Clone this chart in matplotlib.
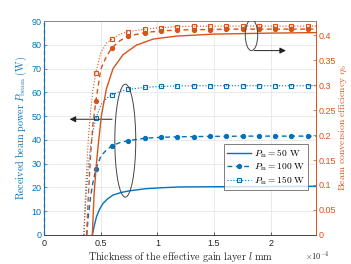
import matplotlib
matplotlib.use('Agg')
import matplotlib.pyplot as plt
from matplotlib.patches import Ellipse
import numpy as np

plt.rcParams['mathtext.fontset'] = 'cm'
plt.rcParams['font.family'] = ['Liberation Sans', 'DejaVu Sans']

# 厚度 (单位 1e-4 mm)
x_50 = [0.425, 0.44, 0.462, 0.49, 0.52, 0.56, 0.608, 0.68, 0.756, 0.903, 1.05, 1.197, 1.5, 2.0, 2.4]
p_50 = [0.0, 3.5, 7.7, 10.9, 13.3, 15.2, 16.8, 17.9, 18.6, 19.5, 19.9, 20.2, 20.3, 20.4, 20.5]
xe_50 = [0.425, 0.44, 0.46, 0.476, 0.506, 0.55, 0.608, 0.697, 0.815, 0.961, 1.168, 1.5, 2.0, 2.4]
eta_50 = [0.0, 0.08, 0.14, 0.178, 0.24, 0.293, 0.333, 0.361, 0.38, 0.392, 0.398, 0.402, 0.404, 0.405]

x_100 = [0.375, 0.39, 0.41, 0.43, 0.456, 0.50, 0.55, 0.600, 0.67, 0.744, 0.888, 1.032, 1.176,
         1.320, 1.464, 1.608, 1.752, 1.896, 2.040, 2.184, 2.328, 2.4]
p_100 = [0.0, 8.1, 16.2, 22.1, 27.6, 33.2, 35.8, 37.6, 38.9, 39.7, 40.7, 41.1, 41.3,
         41.4, 41.5, 41.5, 41.6, 41.6, 41.6, 41.6, 41.6, 41.6]
eta_100 = [0.0, 0.081, 0.162, 0.221, 0.268, 0.332, 0.358, 0.375, 0.389, 0.398, 0.405, 0.4085, 0.41,
           0.411, 0.411, 0.412, 0.412, 0.412, 0.412, 0.412, 0.412, 0.412]

x_150 = [0.35, 0.37, 0.39, 0.41, 0.43, 0.456, 0.50, 0.55, 0.600, 0.67, 0.744, 0.888, 1.032, 1.176,
         1.320, 1.464, 1.608, 1.752, 1.896, 2.040, 2.184, 2.328, 2.4]
p_150 = [0.0, 17.1, 29.0, 37.4, 43.5, 49.1, 54.7, 57.6, 59.0, 60.4, 61.3, 62.1, 62.5, 62.7,
         62.8, 62.8, 62.8, 62.8, 62.8, 62.8, 62.8, 62.8, 62.8]
eta_150 = [0.0, 0.114, 0.193, 0.249, 0.29, 0.325, 0.365, 0.384, 0.392, 0.402, 0.407, 0.412, 0.415, 0.417,
           0.418, 0.418, 0.418, 0.418, 0.418, 0.418, 0.418, 0.418, 0.418]

# 标记位置
mark_x = [0.456, 0.600, 0.744, 0.888, 1.032, 1.176, 1.320, 1.464, 1.608, 1.752, 1.896, 2.040, 2.184, 2.328]

blue = '#0072BD'
orange = '#D95319'

fig = plt.figure(figsize=(3.51, 2.64), dpi=100)
ax1 = fig.add_axes([0.126, 0.110, 0.774, 0.810])
ax2 = ax1.twinx()

m100 = list(np.where(np.isin(x_100, mark_x))[0])
m150 = list(np.where(np.isin(x_150, mark_x))[0])

l1, = ax1.plot(x_50, p_50, color=blue, lw=1.0, label=r'$P_{\mathrm{in}}\mathrm{=50\ W}$')
l2, = ax1.plot(x_100, p_100, color=blue, lw=1.0, ls=(0, (3.5, 2.5)), marker='o', ms=2.8,
               markevery=m100, label=r'$P_{\mathrm{in}}\mathrm{=100\ W}$')
l3, = ax1.plot(x_150, p_150, color=blue, lw=0.8, ls=':', marker='s', ms=3.5, mfc='none', mew=0.8,
               markevery=m150, label=r'$P_{\mathrm{in}}\mathrm{=150\ W}$')

ax2.plot(xe_50, eta_50, color=orange, lw=1.0)
ax2.plot(x_100, eta_100, color=orange, lw=1.0, ls=(0, (3.5, 2.5)), marker='o', ms=2.8, markevery=m100)
ax2.plot(x_150, eta_150, color=orange, lw=0.8, ls=':', marker='s', ms=3.5, mfc='none', mew=0.8,
         markevery=m150)

ax1.set_xlim(0, 2.4)
ax1.set_ylim(0, 90)
ax2.set_ylim(0, 0.428)
ax1.set_xticks([0, 0.5, 1, 1.5, 2])
ax1.set_xticklabels(['0', '0.5', '1', '1.5', '2'])
ax1.set_yticks(range(0, 91, 10))
ax2.set_yticks(np.arange(0, 0.401, 0.05))
ax2.set_yticklabels(['0', '0.05', '0.1', '0.15', '0.2', '0.25', '0.3', '0.35', '0.4'])

ax1.grid(True, color='#e6e6e6', lw=0.6)
ax1.set_axisbelow(True)

ax1.tick_params(axis='y', colors=blue, labelsize=6.5, direction='in', length=2.5, width=0.5, pad=2)
ax1.tick_params(axis='x', colors='#262626', labelsize=6.5, direction='in', length=2.5, width=0.5, pad=3)
ax2.tick_params(axis='y', colors=orange, labelsize=6.5, direction='in', length=2.5, width=0.5, pad=2)

for ax in (ax1, ax2):
    ax.spines['top'].set_color('#888888')
    ax.spines['bottom'].set_color('#444444')
    ax.spines['left'].set_color(blue)
    ax.spines['right'].set_color(orange)
    for s in ax.spines.values():
        s.set_linewidth(0.6)

ax1.axvline(0, color='#777777', ls=(0, (3, 2)), lw=1.0, zorder=5, clip_on=False)

ax1.set_xlabel(r'$\mathrm{Thickness\ of\ the\ effective\ gain\ layer}\ l\ \mathrm{mm}$', fontsize=7.3,
               color='#262626', labelpad=1)
ax1.set_ylabel(r'$\mathrm{Received\ beam\ power}\ P_{\mathrm{beam}}\ \mathrm{(W)}$', fontsize=7.3,
               color=blue, labelpad=2)
ax2.set_ylabel(r'$\mathrm{Beam\ conversion\ efficiency}\ \eta_{\mathrm{b}}$', fontsize=7.0,
               color=orange, labelpad=1)
fig.text(0.87, 0.02, r'$\times10^{-4}$', fontsize=6, color='#262626')

# 椭圆与箭头标注
ax1.add_patch(Ellipse((0.716, 39.7), 0.185, 47.5, fill=False, ec='#444444', lw=0.7, zorder=6))
ax1.annotate('', xy=(0.2, 48.7), xytext=(0.624, 48.7),
             arrowprops=dict(arrowstyle='-|>', color='#222222', lw=0.7, mutation_scale=9))
ax2.add_patch(Ellipse((1.831, 0.40), 0.110, 0.062, fill=False, ec='#444444', lw=0.7, zorder=6))
ax2.annotate('', xy=(2.16, 0.369), xytext=(1.83, 0.369),
             arrowprops=dict(arrowstyle='-|>', color='#222222', lw=0.7, mutation_scale=9))

leg = ax2.legend(handles=[l1, l2, l3], loc='upper right', bbox_to_anchor=(0.972, 0.424),
                 borderaxespad=0, fontsize=6.8, frameon=True, fancybox=False, edgecolor='#444444',
                 handlelength=2.6, handletextpad=0.3, labelspacing=0.15, borderpad=0.3)
leg.get_frame().set_linewidth(0.6)

fig.savefig('out.png', dpi=100)
